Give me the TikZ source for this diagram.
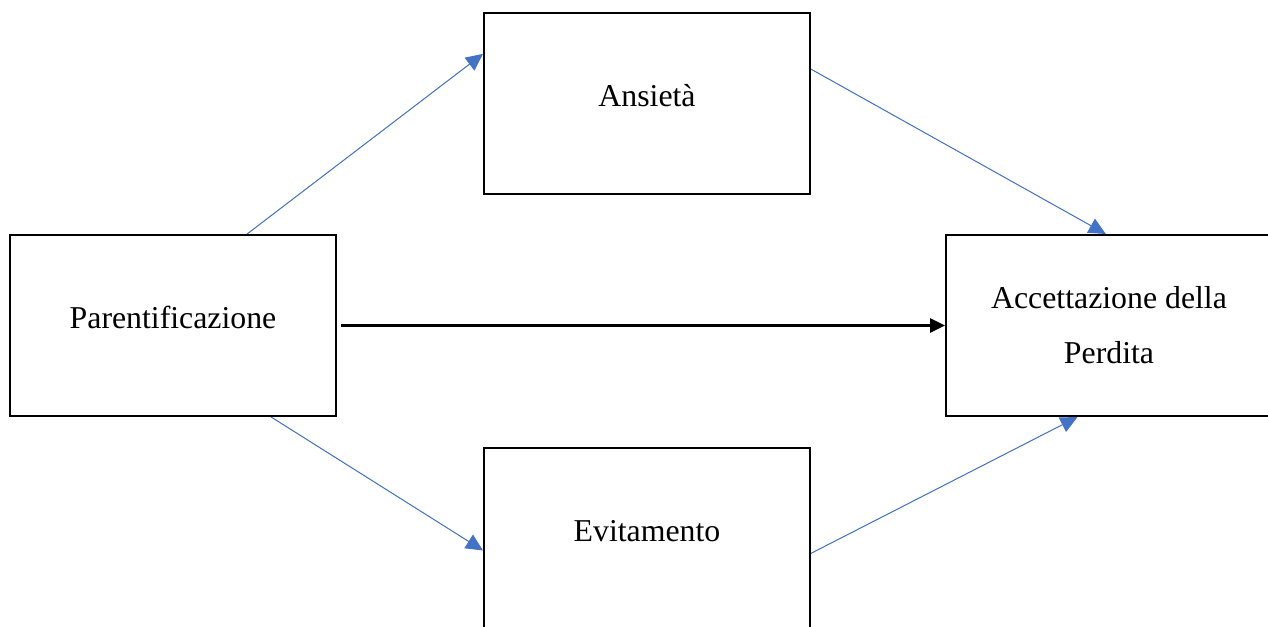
\documentclass[tikz,border=0pt]{standalone}
\usepackage{fontspec}
\setmainfont{Liberation Serif}
\usepackage{xcolor}
\usetikzlibrary{arrows.meta, positioning, calc, backgrounds}
\definecolor{pathblue}{RGB}{68,114,196}
\tikzset{
  var/.style={
    rectangle,
    draw=black, line width=1pt,
    fill=white,
    minimum width=163pt, minimum height=90.5pt,
    align=center, inner sep=0pt,
    font=\fontsize{15.9}{27.5}\selectfont
  },
  oneline/.style={text height=11pt, text depth=8pt},
  med/.style={-{Triangle[length=8.5pt, width=8pt]}, draw=pathblue, fill=pathblue, line width=0.5pt},
  direct/.style={-{Triangle[length=7.5pt, width=7pt]}, line width=1.5pt}
}

\begin{document}
\begin{tikzpicture}[x=0.5pt, y=0.5pt]

  \clip (0,0) rectangle (1268,626);

  % ---- Nodes ----
  \node[var, oneline] (par)  at (173,300.5)  {Parentificazione};
  \node[var, oneline] (ans)  at (647,522)    {Ansietà};
  \node[var, oneline] (evi)  at (647,87)     {Evitamento};
  \node[var]          (acc)  at (1109,300.5) {Accettazione della\\Perdita};

  % ---- Arrows ----
  \begin{scope}[on background layer]
    \draw[med] (par.51)  -- (ans.163);
    \draw[med] (ans.12)  -- (acc.92);
    \draw[med] (par.317) -- (evi.184);
    \draw[med] (evi.355) -- (acc.251);
  \end{scope}

  \draw[direct, shorten <=2pt] (par.east) -- (acc.west);

\end{tikzpicture}
\end{document}
